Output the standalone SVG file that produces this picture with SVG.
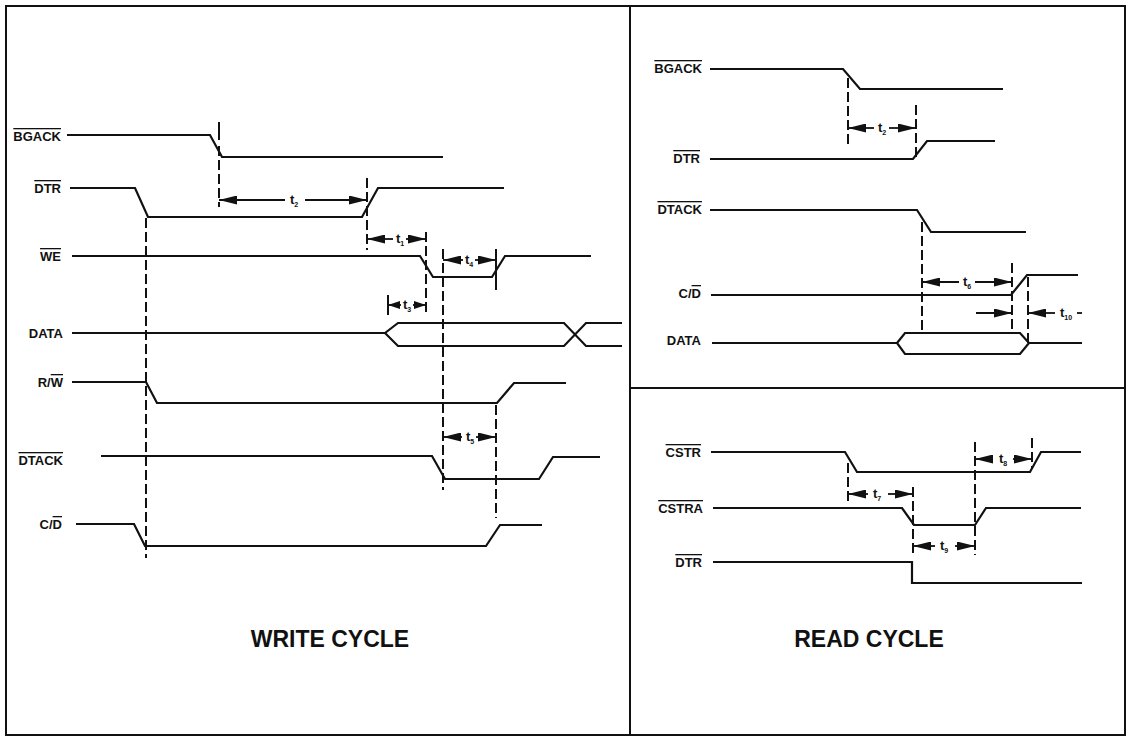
<svg xmlns="http://www.w3.org/2000/svg" width="1129" height="741" viewBox="0 0 1129 741">
<defs>
<marker id="ah" viewBox="0 0 18 9" refX="18" refY="4.5" markerWidth="18" markerHeight="9" markerUnits="userSpaceOnUse" orient="auto"><path d="M0,0 L18,4.5 L0,9 Z" fill="#111"/></marker>
<marker id="ahs" viewBox="0 0 12 8" refX="12" refY="4" markerWidth="12" markerHeight="8" markerUnits="userSpaceOnUse" orient="auto"><path d="M0,0 L12,4 L0,8 Z" fill="#111"/></marker>
</defs>
<style>
.frame{fill:none;stroke:#111;stroke-width:2}
.sig{fill:none;stroke:#111;stroke-width:2.2;stroke-linejoin:miter}
.dash{fill:none;stroke:#111;stroke-width:2;stroke-dasharray:10,4}
.tick{fill:none;stroke:#111;stroke-width:2}
.arr{fill:none;stroke:#111;stroke-width:1.8;marker-end:url(#ah)}
.arrs{fill:none;stroke:#111;stroke-width:1.8;marker-end:url(#ahs)}
.lbl{font-family:"Liberation Sans",Arial,sans-serif;font-weight:bold;font-size:13px;fill:#111;text-anchor:end}
.ov{text-decoration:overline}
.t{font-family:"Liberation Sans",Arial,sans-serif;font-weight:bold;font-size:13px;fill:#111;text-anchor:middle}
.sub{font-size:7px}
.title{font-family:"Liberation Sans",Arial,sans-serif;font-weight:bold;font-size:23px;fill:#111;text-anchor:middle}
</style>
<rect class="frame" x="6" y="6" width="1119" height="729"/>
<line class="frame" x1="630" y1="6" x2="630" y2="735"/>
<line class="frame" x1="630" y1="388" x2="1125" y2="388"/>

<!-- WRITE CYCLE -->
<g id="w-bgack">
<text class="lbl" x="61" y="141"><tspan class="ov">BGACK</tspan></text>
<polyline class="sig" points="67,135 210,135 222,157 443,157"/>
</g>
<g id="w-dtr">
<text class="lbl" x="61" y="193"><tspan class="ov">DTR</tspan></text>
<polyline class="sig" points="70,188 135,188 148,217 362,217 378,188 504,188"/>
</g>
<g id="w-we">
<text class="lbl" x="61" y="261"><tspan class="ov">WE</tspan></text>
<polyline class="sig" points="72,256 420,256 433,277 492,277 505,256 591,256"/>
</g>
<g id="w-data">
<text class="lbl" x="63" y="338">DATA</text>
<polyline class="sig" points="72,333 385,333 398,323 564,323 586,346 622,346"/>
<polyline class="sig" points="385,333 398,346 564,346 586,323 622,323"/>
</g>
<g id="w-rw">
<text class="lbl" x="63" y="387">R/<tspan class="ov">W</tspan></text>
<polyline class="sig" points="72,382 146,382 157,403 497,403 514,383 566,383"/>
</g>
<g id="w-dtack">
<text class="lbl" x="63" y="465"><tspan class="ov">DTACK</tspan></text>
<polyline class="sig" points="101,456 432,456 445,479 539,479 553,457 600,457"/>
</g>
<g id="w-cd">
<text class="lbl" x="62" y="529">C/<tspan class="ov">D</tspan></text>
<polyline class="sig" points="76,524 134,524 145,546 486,546 500,525 542,525"/>
</g>
<text class="title" x="330" y="647">WRITE CYCLE</text>

<!-- READ CYCLE top -->
<g id="r-bgack">
<text class="lbl" x="702" y="73"><tspan class="ov">BGACK</tspan></text>
<polyline class="sig" points="710,69 843,69 860,89 1003,89"/>
</g>
<g id="r-dtr">
<text class="lbl" x="700" y="163"><tspan class="ov">DTR</tspan></text>
<polyline class="sig" points="710,159 913,159 927,141 995,141"/>
</g>
<g id="r-dtack">
<text class="lbl" x="702" y="214"><tspan class="ov">DTACK</tspan></text>
<polyline class="sig" points="710,210 917,210 931,232 1026,232"/>
</g>
<g id="r-cd">
<text class="lbl" x="701" y="298">C/<tspan class="ov">D</tspan></text>
<polyline class="sig" points="711,295 1011,295 1027,275 1078,275"/>
</g>
<g id="r-data">
<text class="lbl" x="701" y="345">DATA</text>
<polyline class="sig" points="712,343 897,343"/>
<polygon class="sig" points="897,343 905,333 1020,333 1029,343 1020,354 905,354"/>
<polyline class="sig" points="1029,343 1082,343"/>
</g>

<!-- READ CYCLE bottom -->
<g id="r-cstr">
<text class="lbl" x="701" y="457"><tspan class="ov">CSTR</tspan></text>
<polyline class="sig" points="711,452 845,452 857,472 1030,472 1041,452 1081,452"/>
</g>
<g id="r-cstra">
<text class="lbl" x="703" y="513"><tspan class="ov">CSTRA</tspan></text>
<polyline class="sig" points="713,508 902,508 914,525 975,525 986,508 1081,508"/>
</g>
<g id="r-dtr2">
<text class="lbl" x="702" y="567"><tspan class="ov">DTR</tspan></text>
<polyline class="sig" points="713,562 912,562 912,583 1082,583"/>
</g>
<text class="title" x="869" y="647">READ CYCLE</text>

<!-- connectors: timing references and intervals -->
<g id="connectors">
<line class="tick" x1="219" y1="122" x2="219" y2="140"/>
<line class="dash" x1="219" y1="146" x2="219" y2="207"/>
<line class="dash" x1="146" y1="218" x2="146" y2="558"/>
<line class="dash" x1="367" y1="178" x2="367" y2="250"/>
<line class="dash" x1="426" y1="232" x2="426" y2="315"/>
<line class="dash" x1="443" y1="249" x2="443" y2="490"/>
<line class="tick" x1="496" y1="249" x2="496" y2="290"/>
<line class="tick" x1="388" y1="295" x2="388" y2="315"/>
<line class="dash" x1="496" y1="405" x2="496" y2="518"/>

<line class="arr" x1="285" y1="200" x2="219" y2="200"/>
<line class="arr" x1="305" y1="200" x2="367" y2="200"/>
<text class="t" x="294" y="204">t<tspan class="sub" dy="3">2</tspan></text>

<line class="arr" x1="393" y1="239" x2="367" y2="239"/>
<line class="arr" x1="406" y1="239" x2="426" y2="239"/>
<text class="t" x="400" y="243">t<tspan class="sub" dy="3">1</tspan></text>

<line class="arrs" x1="401" y1="305" x2="388" y2="305"/>
<line class="arrs" x1="413" y1="305" x2="426" y2="305"/>
<text class="t" x="407" y="309">t<tspan class="sub" dy="3">3</tspan></text>

<line class="arr" x1="463" y1="260" x2="443" y2="260"/>
<line class="arr" x1="475" y1="260" x2="496" y2="260"/>
<text class="t" x="469" y="264">t<tspan class="sub" dy="3">4</tspan></text>

<line class="arr" x1="462" y1="437" x2="443" y2="437"/>
<line class="arr" x1="476" y1="437" x2="496" y2="437"/>
<text class="t" x="470" y="441">t<tspan class="sub" dy="3">5</tspan></text>

<line class="dash" x1="848" y1="78" x2="848" y2="148"/>
<line class="dash" x1="916" y1="105" x2="916" y2="160"/>
<line class="arr" x1="874" y1="128" x2="848" y2="128"/>
<line class="arr" x1="889" y1="128" x2="916" y2="128"/>
<text class="t" x="882" y="132">t<tspan class="sub" dy="3">2</tspan></text>

<line class="dash" x1="922" y1="222" x2="922" y2="330"/>
<line class="dash" x1="1012" y1="263" x2="1012" y2="332"/>
<line class="dash" x1="1028" y1="277" x2="1028" y2="345"/>
<line class="arr" x1="959" y1="282" x2="922" y2="282"/>
<line class="arr" x1="975" y1="282" x2="1012" y2="282"/>
<text class="t" x="967" y="286">t<tspan class="sub" dy="3">6</tspan></text>

<line class="arr" x1="976" y1="313" x2="1012" y2="313"/>
<line class="arr" x1="1055" y1="313" x2="1028" y2="313"/>
<text class="t" x="1066" y="317">t<tspan class="sub" dy="3">10</tspan></text>
<line class="tick" x1="1077" y1="313" x2="1082" y2="313" style="stroke-width:1.8"/>

<line class="dash" x1="848" y1="463" x2="848" y2="502"/>
<line class="dash" x1="913" y1="487" x2="913" y2="555"/>
<line class="dash" x1="975" y1="442" x2="975" y2="555"/>
<line class="dash" x1="1032" y1="438" x2="1032" y2="468"/>

<line class="arr" x1="868" y1="494" x2="848" y2="494"/>
<line class="arr" x1="888" y1="494" x2="913" y2="494"/>
<text class="t" x="877" y="498">t<tspan class="sub" dy="3">7</tspan></text>

<line class="arr" x1="993" y1="459" x2="975" y2="459"/>
<line class="arr" x1="1013" y1="459" x2="1032" y2="459"/>
<text class="t" x="1003" y="463">t<tspan class="sub" dy="3">8</tspan></text>

<line class="arr" x1="935" y1="546" x2="913" y2="546"/>
<line class="arr" x1="955" y1="546" x2="975" y2="546"/>
<text class="t" x="944" y="550">t<tspan class="sub" dy="3">9</tspan></text>
</g>
</svg>
